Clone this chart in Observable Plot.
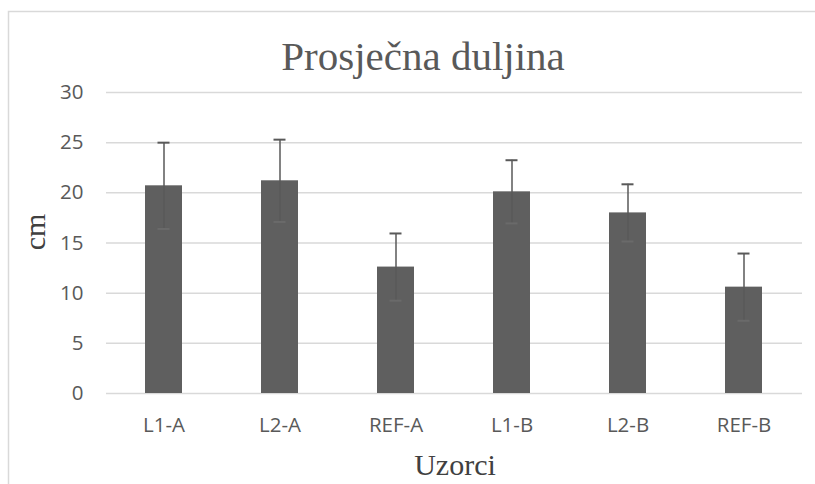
<!DOCTYPE html>
<html>
<head>
<meta charset="utf-8">
<script src="https://cdn.jsdelivr.net/npm/d3@7"></script>
<script src="https://cdn.jsdelivr.net/npm/@observablehq/plot@0.6"></script>
<style>
  html, body { margin: 0; padding: 0; background: #fff; }
  #chart { position: relative; width: 815px; height: 484px; }
</style>
</head>
<body>
<div id="chart"></div>
<script>
const categories = ["L1-A", "L2-A", "REF-A", "L1-B", "L2-B", "REF-B"];
const means = [20.7, 21.2, 12.6, 20.1, 18.0, 10.6];
const errors = [4.3, 4.1, 3.35, 3.15, 2.85, 3.35];
const yTicks = [0, 5, 10, 15, 20, 25, 30];
const title = "Prosječna duljina";
const yLabel = "cm";
const xLabel = "Uzorci";

const data = categories.map((c, i) => ({cat: c, mean: means[i], err: errors[i]}));

const plot = Plot.plot({
  width: 815,
  height: 484,
  marginLeft: 106,
  marginRight: 13,
  marginTop: 92,
  marginBottom: 91,
  style: {fontFamily: "'Open Sans', sans-serif", fontSize: "20.5px", color: "#595959", background: "#fff"},
  x: {domain: categories, paddingInner: 0.68, paddingOuter: 0.34, label: null},
  y: {domain: [0, 30], label: null},
  marks: [
    Plot.ruleY(yTicks, {stroke: "#d9d9d9", strokeWidth: 1.5}),
    Plot.axisY({ticks: yTicks, tickSize: 0, tickPadding: 23, label: null, fill: "#595959", fontSize: 20.5}),
    Plot.axisX({tickSize: 0, tickPadding: 24, label: null, fill: "#595959", fontSize: 20.5}),
    Plot.barY(data, {x: "cat", y: "mean", fill: "#5f5f5f"}),
    Plot.ruleX(data, {x: "cat", y1: d => d.mean - d.err, y2: d => d.mean + d.err, stroke: "#595959", strokeWidth: 1.5}),
    Plot.tickY(data, {x: "cat", y: d => d.mean + d.err, stroke: "#595959", strokeWidth: 2, insetLeft: 12.5, insetRight: 12.5}),
    Plot.tickY(data, {x: "cat", y: d => d.mean - d.err, stroke: "#6a6a6a", strokeWidth: 2, insetLeft: 12.5, insetRight: 12.5})
  ]
});

document.getElementById("chart").appendChild(plot);

const svg = d3.select(plot);
// chart border (top and left visible in reference)
svg.insert("rect", ":first-child")
  .attr("x", 8.5).attr("y", 11.5).attr("width", 815).attr("height", 480)
  .attr("fill", "none").attr("stroke", "#d9d9d9").attr("stroke-width", 1.5);

svg.append("text")
  .attr("x", 423).attr("y", 70)
  .attr("text-anchor", "middle")
  .attr("font-family", "'Liberation Serif', 'Times New Roman', serif")
  .attr("font-size", 41).attr("fill", "#595959")
  .text(title);

svg.append("text")
  .attr("transform", "translate(45,232) rotate(-90)")
  .attr("text-anchor", "middle")
  .attr("font-family", "'Liberation Serif', 'Times New Roman', serif")
  .attr("font-size", 30).attr("fill", "#404040")
  .text(yLabel);

svg.append("text")
  .attr("x", 455).attr("y", 475)
  .attr("text-anchor", "middle")
  .attr("font-family", "'Liberation Serif', 'Times New Roman', serif")
  .attr("font-size", 30).attr("fill", "#404040")
  .text(xLabel);
</script>
</body>
</html>
